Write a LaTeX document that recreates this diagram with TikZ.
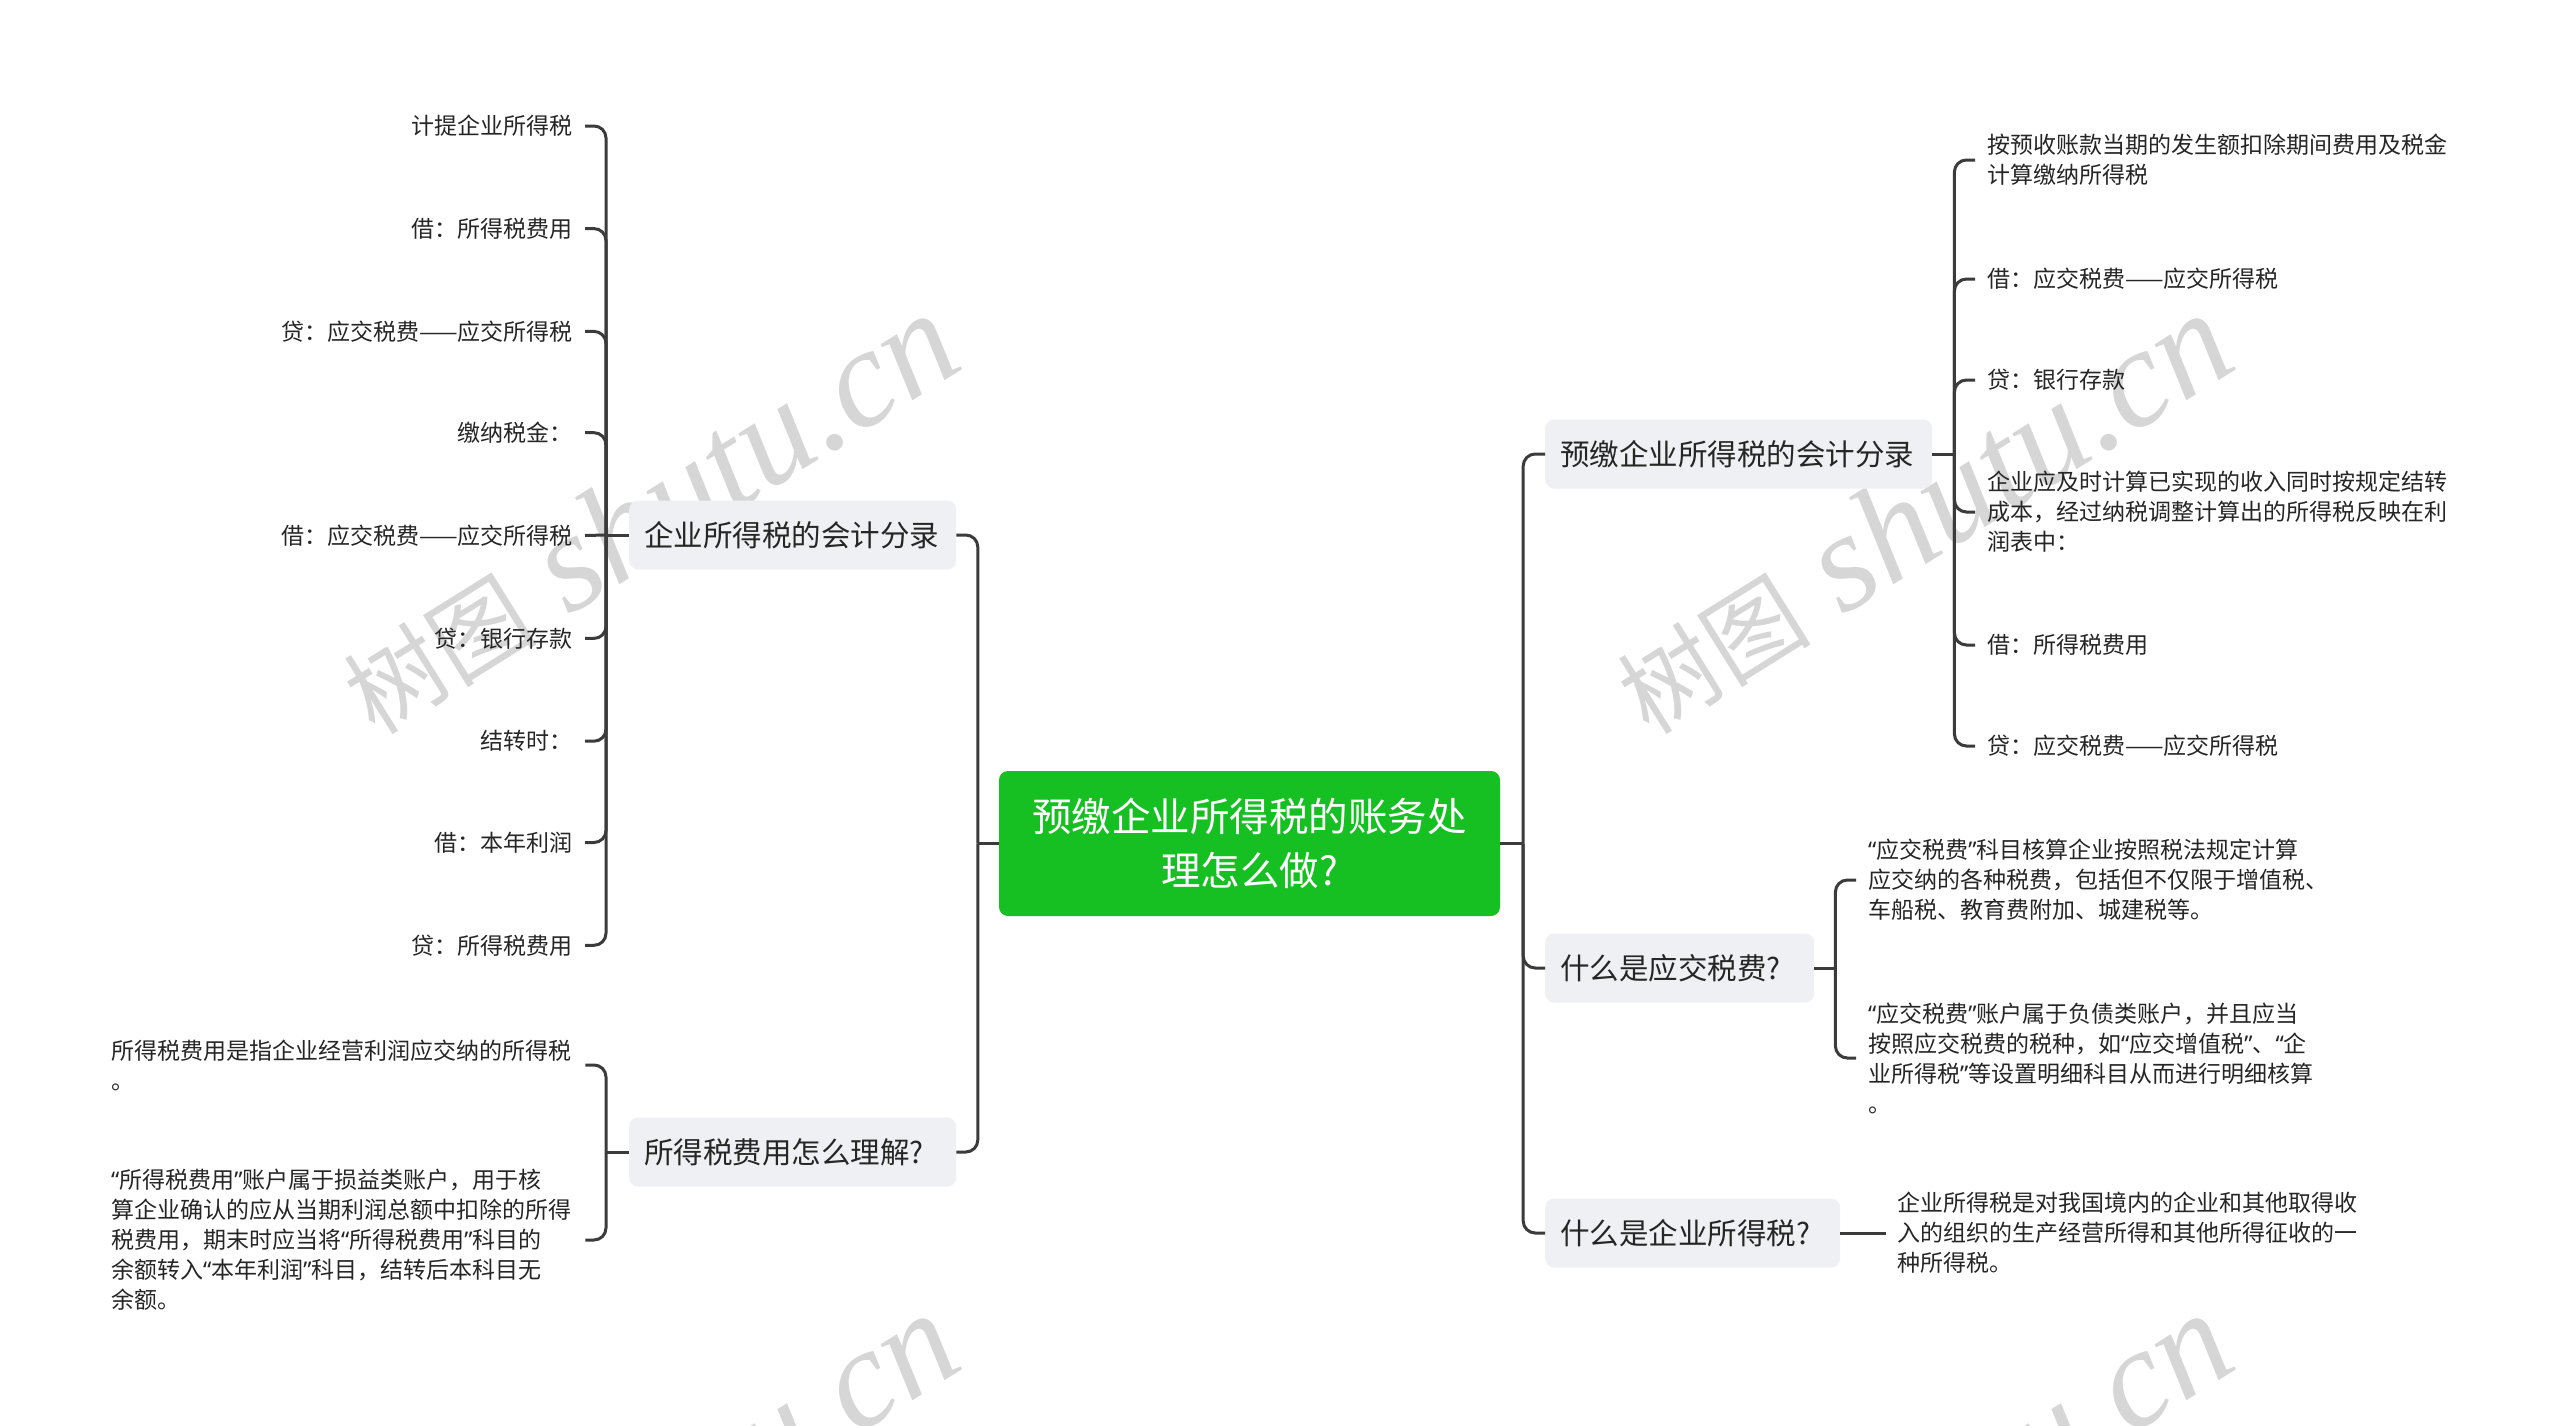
\documentclass[tikz,border=0pt]{standalone}
\usepackage{fontspec}
\setmainfont{Noto Sans CJK SC}
\newfontfamily\wmlatin{Liberation Serif}
\newfontfamily\cjkwm{Noto Sans CJK SC}
\newfontfamily\latq{Noto Sans}
\newcommand\myqo{{\latq “}}
\newcommand\myqc{{\latq ”}}
\newcommand\wmtext{{\cjkwm\fontsize{97}{97}\selectfont 树图}\hspace{34pt}{\wmlatin\itshape\fontsize{140}{140}\selectfont shutu.cn}}
\definecolor{ink}{HTML}{262626}
\definecolor{linec}{HTML}{3B3B3B}
\definecolor{boxfill}{HTML}{EEF0F3}
\definecolor{rootgreen}{HTML}{16C023}
\definecolor{wmgray}{HTML}{D6D6D6}
\begin{document}
\begin{tikzpicture}[x=1pt,y=-1pt,
  conn/.style={draw=linec,line width=3pt,rounded corners=12pt},
  leaf/.style={inner sep=0pt,text=ink,font=\fontsize{23}{30}\selectfont,align=left},
  topic/.style={fill=boxfill,rounded corners=9pt,inner xsep=15pt,inner ysep=0pt,text=ink,font=\fontsize{29.5}{36}\selectfont,minimum height=69pt,align=left},
  rootbox/.style={fill=rootgreen,rounded corners=9pt,text=white,font=\fontsize{39.5}{54}\selectfont,minimum width=501pt,minimum height=145pt,align=center,inner sep=0pt},
  wmark/.style={text=wmgray,rotate=32,inner sep=0pt}]
\useasboundingbox (0,0) rectangle (2560,1425);
\clip (0,0) rectangle (2560,1425);
\fill[white] (0,0) rectangle (2560,1425);

% watermarks
\node[wmark] (w1) at (648,514) {\wmtext};
\node[wmark] (w2) at (1922,514) {\wmtext};
\node[wmark] (w3) at (648,1514) {\wmtext};
\node[wmark] (w4) at (1922,1514) {\wmtext};

% root
\node[rootbox] (root) at (1249.5,843.5) {预缴企业所得税的账务处\\理怎么做?};

% level 1
\node[topic,anchor=west,text width=297pt] (n1) at (629,535) {企业所得税的会计分录};
\node[topic,anchor=west,text width=297pt] (n2) at (629,1152) {所得税费用怎么理解?};
\node[topic,anchor=west,text width=357pt] (n3) at (1545,454) {预缴企业所得税的会计分录};
\node[topic,anchor=west,text width=239pt] (n4) at (1545,968) {什么是应交税费?};
\node[topic,anchor=west,text width=265pt] (n5) at (1545,1233) {什么是企业所得税?};

% left group 1 leaves
\node[leaf,anchor=east] (a1) at (573,126) {计提企业所得税};
\node[leaf,anchor=east] (a2) at (573,228.6) {借：所得税费用};
\node[leaf,anchor=east] (a3) at (573,331.4) {贷：应交税费——应交所得税};
\node[leaf,anchor=east] (a4) at (573,432.7) {缴纳税金：};
\node[leaf,anchor=east] (a5) at (573,535.5) {借：应交税费——应交所得税};
\node[leaf,anchor=east] (a6) at (573,638.4) {贷：银行存款};
\node[leaf,anchor=east] (a7) at (573,741.2) {结转时：};
\node[leaf,anchor=east] (a8) at (573,842.5) {借：本年利润};
\node[leaf,anchor=east] (a9) at (573,945.3) {贷：所得税费用};

% left group 2 leaves
\node[leaf,anchor=west] (b1) at (111,1065) {所得税费用是指企业经营利润应交纳的所得税\\。};
\node[leaf,anchor=west] (b2) at (111,1240) {\myqo 所得税费用\myqc 账户属于损益类账户，用于核\\算企业确认的应从当期利润总额中扣除的所得\\税费用，期末时应当将\myqo 所得税费用\myqc 科目的\\余额转入\myqo 本年利润\myqc 科目，结转后本科目无\\余额。};

% right group 1 leaves
\node[leaf,anchor=west] (c1) at (1987,160) {按预收账款当期的发生额扣除期间费用及税金\\计算缴纳所得税};
\node[leaf,anchor=west] (c2) at (1987,279) {借：应交税费——应交所得税};
\node[leaf,anchor=west] (c3) at (1987,380) {贷：银行存款};
\node[leaf,anchor=west] (c4) at (1987,512) {企业应及时计算已实现的收入同时按规定结转\\成本，经过纳税调整计算出的所得税反映在利\\润表中：};
\node[leaf,anchor=west] (c5) at (1987,645) {借：所得税费用};
\node[leaf,anchor=west] (c6) at (1987,746) {贷：应交税费——应交所得税};

% right group 2 leaves
\node[leaf,anchor=west] (d1) at (1868,880) {\myqo 应交税费\myqc 科目核算企业按照税法规定计算\\应交纳的各种税费，包括但不仅限于增值税、\\车船税、教育费附加、城建税等。};
\node[leaf,anchor=west] (d2) at (1868,1058) {\myqo 应交税费\myqc 账户属于负债类账户，并且应当\\按照应交税费的税种，如\myqo 应交增值税\myqc 、\myqo 企\\业所得税\myqc 等设置明细科目从而进行明细核算\\。};

% right group 3 leaf
\node[leaf,anchor=west] (e1) at (1897,1233) {企业所得税是对我国境内的企业和其他取得收\\入的组织的生产经营所得和其他所得征收的一\\种所得税。};

% root connectors
\draw[conn] (root.west) -- ++(-21,0) coordinate (T1);
\draw[conn] (T1) |- (n1.east);
\draw[conn] (T1) |- (n2.east);
\draw[conn] (root.east) -- ++(23,0) coordinate (T2);
\draw[conn] (T2) |- (n3.west);
\draw[conn] (T2) |- (n4.west);
\draw[conn] (T2) |- (n5.west);

% left group 1
\draw[conn] (n1.west) -- ++(-23,0) coordinate (t1);
\foreach \k in {a1,a2,a3,a4,a6,a7,a8,a9} {\draw[conn] (t1) |- ([xshift=12pt]\k.east);}
\draw[conn] (t1) -- ([xshift=12pt]a5.east);

% left group 2
\draw[conn] (n2.west) -- ++(-23,0) coordinate (t2);
\draw[conn] (t2) |- ([xshift=14pt]b1.east);
\draw[conn] (t2) |- ([xshift=14pt]b2.east);

% right group 1
\draw[conn] (n3.east) -- ++(22,0) coordinate (t3);
\foreach \k in {c1,c2,c3,c4,c5,c6} {\draw[conn] (t3) |- ([xshift=-12pt]\k.west);}

% right group 2
\draw[conn] (n4.east) -- ++(21,0) coordinate (t4);
\draw[conn] (t4) |- ([xshift=-12pt]d1.west);
\draw[conn] (t4) |- ([xshift=-12pt]d2.west);

% right group 3
\draw[conn] (n5.east) -- ([xshift=-11pt]e1.west);
\end{tikzpicture}
\end{document}
